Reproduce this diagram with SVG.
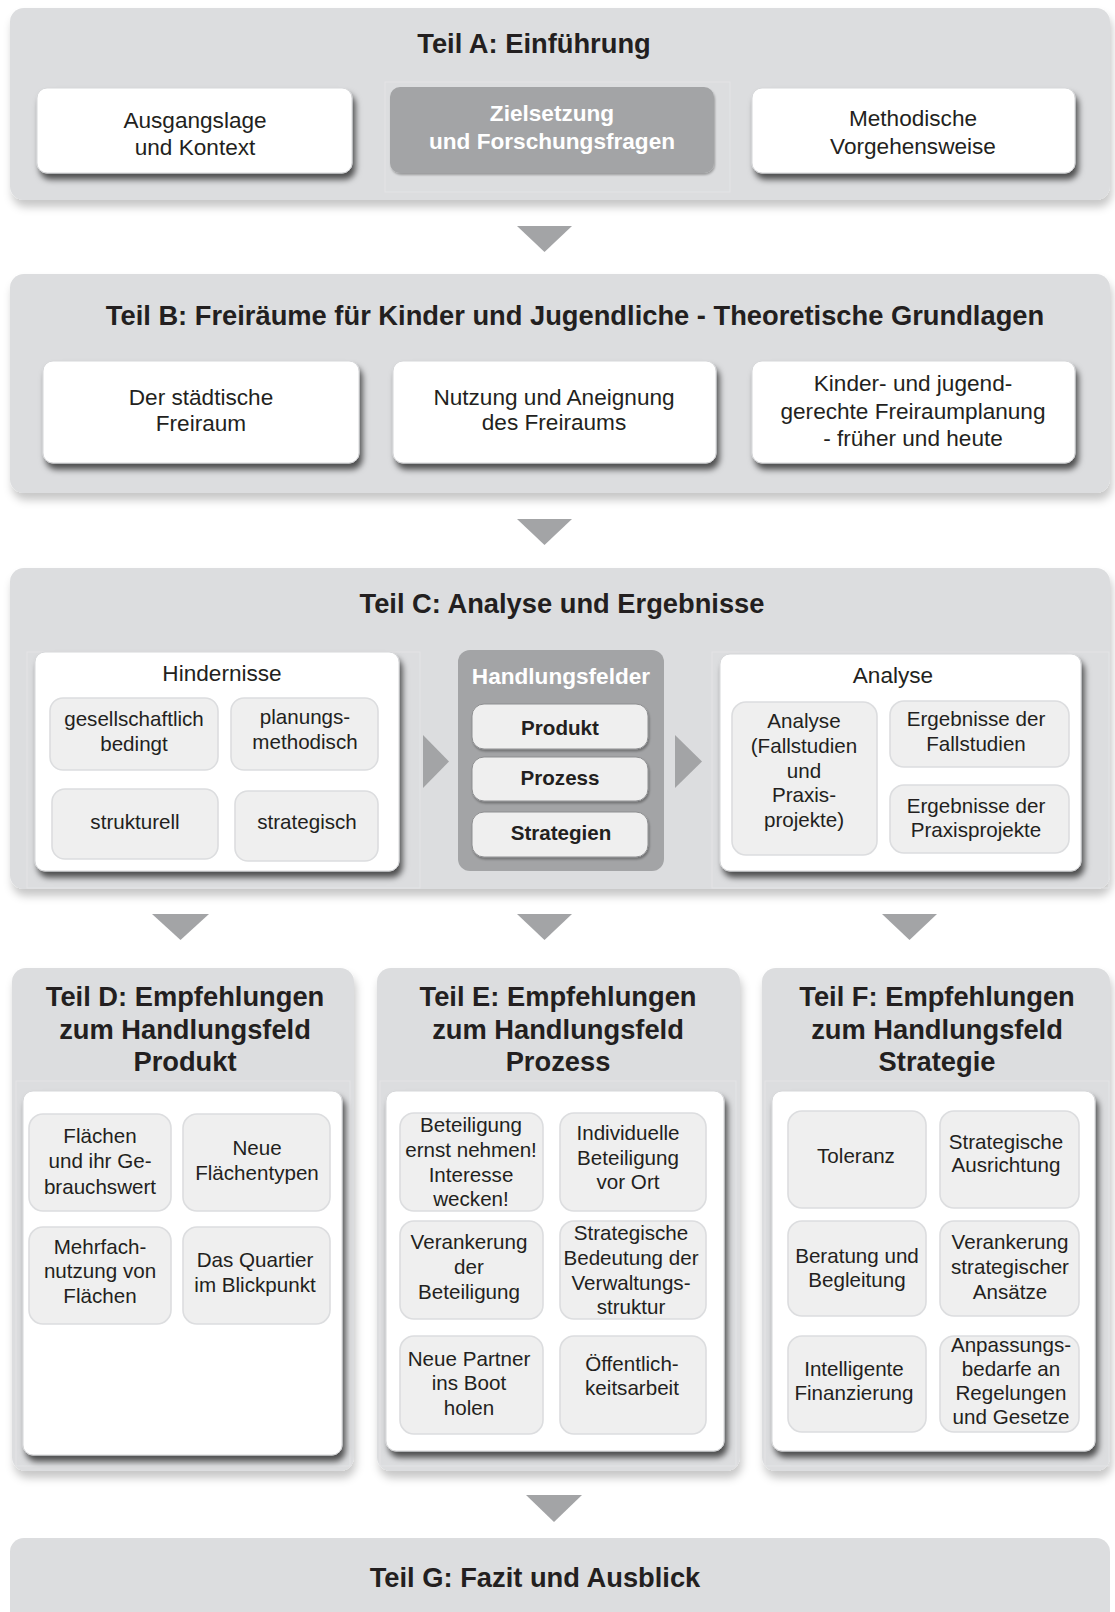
<svg xmlns="http://www.w3.org/2000/svg" width="1115" height="1612" viewBox="0 0 1115 1612">
  <defs>
    <filter id="panelShadow" x="-5%" y="-10%" width="115%" height="130%">
      <feDropShadow dx="2" dy="7" stdDeviation="4.5" flood-color="#000" flood-opacity="0.22"/>
    </filter>
    <filter id="cardShadow" x="-5%" y="-10%" width="115%" height="130%">
      <feDropShadow dx="3" dy="6" stdDeviation="3" flood-color="#000" flood-opacity="0.65"/>
    </filter>
    <filter id="pillShadow" x="-5%" y="-10%" width="115%" height="140%">
      <feDropShadow dx="1" dy="2" stdDeviation="1.2" flood-color="#000" flood-opacity="0.3"/>
    </filter>
  </defs>
  <style>
    .panel { fill: #dcdddf; }
    .frame { fill: none; stroke: #e3e4e6; stroke-width: 1; }
    .card { fill: #ffffff; stroke: #d6d7d9; stroke-width: 1; }
    .dark { fill: #a3a4a6; }
    .sub { fill: #efefef; stroke: #dcdddf; stroke-width: 1.6; }
    .pill { fill: #efefef; stroke: #8e8f91; stroke-width: 1; }
    .arrow { fill: #a3a4a6; }
    text { font-family: "Liberation Sans", Arial, Helvetica, sans-serif; fill: #231f20; text-anchor: middle; }
    .h { font-size: 27.3px; font-weight: bold; }
    .t { font-size: 22.6px; }
    .tw { font-size: 22.6px; font-weight: bold; fill: #ffffff; }
    .s { font-size: 20.6px; }
    .sb { font-size: 20.6px; font-weight: bold; }
  </style>

  <rect width="1115" height="1612" fill="#ffffff"/>

  <!-- Part A -->
  <g id="teil-a">
    <rect class="panel" x="10" y="8" width="1100" height="192" rx="14" filter="url(#panelShadow)"/>
    <rect class="frame" x="385" y="82" width="345" height="110"/>
    <text class="h" x="534" y="53">Teil A: Einführung</text>
  </g>
  <g id="a-ausgangslage">
    <rect class="card" x="37" y="88" width="315" height="85" rx="10" filter="url(#cardShadow)"/>
    <text class="t" x="195" y="128">Ausgangslage</text>
    <text class="t" x="195" y="155">und Kontext</text>
  </g>
  <g id="a-zielsetzung">
    <rect class="dark" x="390" y="87" width="324" height="86" rx="10" filter="url(#pillShadow)"/>
    <text class="tw" x="552" y="121">Zielsetzung</text>
    <text class="tw" x="552" y="149">und Forschungsfragen</text>
  </g>
  <g id="a-methodik">
    <rect class="card" x="752" y="88" width="323" height="85" rx="10" filter="url(#cardShadow)"/>
    <text class="t" x="913" y="126">Methodische</text>
    <text class="t" x="913" y="154">Vorgehensweise</text>
  </g>

  <!-- Part B -->
  <g id="teil-b">
    <rect class="panel" x="10" y="274" width="1100" height="219" rx="14" filter="url(#panelShadow)"/>
    <text class="h" x="575" y="325">Teil B: Freiräume für Kinder und Jugendliche - Theoretische Grundlagen</text>
  </g>
  <g id="b-freiraum">
    <rect class="card" x="43" y="361" width="316" height="102" rx="10" filter="url(#cardShadow)"/>
    <text class="t" x="201" y="405">Der städtische</text>
    <text class="t" x="201" y="431">Freiraum</text>
  </g>
  <g id="b-nutzung">
    <rect class="card" x="393" y="361" width="323" height="102" rx="10" filter="url(#cardShadow)"/>
    <text class="t" x="554" y="405">Nutzung und Aneignung</text>
    <text class="t" x="554" y="430">des Freiraums</text>
  </g>
  <g id="b-planung">
    <rect class="card" x="752" y="361" width="323" height="102" rx="10" filter="url(#cardShadow)"/>
    <text class="t" x="913" y="391">Kinder- und jugend-</text>
    <text class="t" x="913" y="419">gerechte Freiraumplanung</text>
    <text class="t" x="913" y="446">- früher und heute</text>
  </g>

  <!-- Part C -->
  <g id="teil-c">
    <rect class="panel" x="10" y="568" width="1100" height="321" rx="14" filter="url(#panelShadow)"/>
    <rect class="frame" x="27" y="652" width="393" height="236"/>
    <rect class="frame" x="712" y="652" width="397" height="236"/>
    <text class="h" x="562" y="613">Teil C: Analyse und Ergebnisse</text>
  </g>
  <g id="c-hindernisse">
    <rect class="card" x="35" y="652" width="364" height="219" rx="10" filter="url(#cardShadow)"/>
    <text class="t" x="222" y="681">Hindernisse</text>
    <rect class="sub" x="50" y="698" width="168" height="72" rx="13"/>
    <text class="s" x="134" y="726">gesellschaftlich</text>
    <text class="s" x="134" y="751">bedingt</text>
    <rect class="sub" x="231" y="698" width="147" height="72" rx="13"/>
    <text class="s" x="305" y="724">planungs-</text>
    <text class="s" x="305" y="749">methodisch</text>
    <rect class="sub" x="52" y="789" width="166" height="70" rx="13"/>
    <text class="s" x="135" y="829">strukturell</text>
    <rect class="sub" x="235" y="791" width="143" height="70" rx="13"/>
    <text class="s" x="307" y="829">strategisch</text>
  </g>
  <g id="c-handlungsfelder">
    <rect class="dark" x="458" y="650" width="206" height="221" rx="12"/>
    <text class="tw" x="561" y="684">Handlungsfelder</text>
    <rect class="pill" x="472" y="704" width="176" height="45" rx="12" filter="url(#pillShadow)"/>
    <text class="sb" x="560" y="735">Produkt</text>
    <rect class="pill" x="472" y="757" width="176" height="44" rx="12" filter="url(#pillShadow)"/>
    <text class="sb" x="560" y="785">Prozess</text>
    <rect class="pill" x="472" y="812" width="176" height="45" rx="12" filter="url(#pillShadow)"/>
    <text class="sb" x="561" y="840">Strategien</text>
  </g>
  <g id="c-analyse">
    <rect class="card" x="720" y="654" width="361" height="217" rx="10" filter="url(#cardShadow)"/>
    <text class="t" x="893" y="683">Analyse</text>
    <rect class="sub" x="732" y="702" width="145" height="153" rx="14"/>
    <text class="s" x="804" y="728">Analyse</text>
    <text class="s" x="804" y="753">(Fallstudien</text>
    <text class="s" x="804" y="778">und</text>
    <text class="s" x="804" y="802">Praxis-</text>
    <text class="s" x="804" y="827">projekte)</text>
    <rect class="sub" x="890" y="701" width="179" height="66" rx="14"/>
    <text class="s" x="976" y="726">Ergebnisse der</text>
    <text class="s" x="976" y="751">Fallstudien</text>
    <rect class="sub" x="890" y="785" width="179" height="68" rx="14"/>
    <text class="s" x="976" y="813">Ergebnisse der</text>
    <text class="s" x="976" y="837">Praxisprojekte</text>
  </g>

  <!-- Part D -->
  <g id="teil-d">
    <rect class="panel" x="12" y="968" width="342" height="503" rx="14" filter="url(#panelShadow)"/>
    <rect class="frame" x="16" y="1081" width="334" height="385"/>
    <text class="h" x="185" y="1006">Teil D: Empfehlungen</text>
    <text class="h" x="185" y="1039">zum Handlungsfeld</text>
    <text class="h" x="185" y="1071">Produkt</text>
    <rect class="card" x="23" y="1091" width="319" height="364" rx="10" filter="url(#cardShadow)"/>
    <rect class="sub" x="29" y="1114" width="142" height="97" rx="14"/>
    <text class="s" x="100" y="1143">Flächen</text>
    <text class="s" x="100" y="1168">und ihr Ge-</text>
    <text class="s" x="100" y="1194">brauchswert</text>
    <rect class="sub" x="183" y="1114" width="147" height="97" rx="14"/>
    <text class="s" x="257" y="1155">Neue</text>
    <text class="s" x="257" y="1180">Flächentypen</text>
    <rect class="sub" x="29" y="1227" width="142" height="97" rx="14"/>
    <text class="s" x="100" y="1254">Mehrfach-</text>
    <text class="s" x="100" y="1278">nutzung von</text>
    <text class="s" x="100" y="1303">Flächen</text>
    <rect class="sub" x="183" y="1227" width="147" height="97" rx="14"/>
    <text class="s" x="255" y="1267">Das Quartier</text>
    <text class="s" x="255" y="1292">im Blickpunkt</text>
  </g>

  <!-- Part E -->
  <g id="teil-e">
    <rect class="panel" x="377" y="968" width="363" height="503" rx="14" filter="url(#panelShadow)"/>
    <rect class="frame" x="380" y="1081" width="356" height="385"/>
    <text class="h" x="558" y="1006">Teil E: Empfehlungen</text>
    <text class="h" x="558" y="1039">zum Handlungsfeld</text>
    <text class="h" x="558" y="1071">Prozess</text>
    <rect class="card" x="386" y="1091" width="338" height="360" rx="10" filter="url(#cardShadow)"/>
    <rect class="sub" x="400" y="1113" width="143" height="98" rx="14"/>
    <text class="s" x="471" y="1132">Beteiligung</text>
    <text class="s" x="471" y="1157">ernst nehmen!</text>
    <text class="s" x="471" y="1182">Interesse</text>
    <text class="s" x="471" y="1206">wecken!</text>
    <rect class="sub" x="560" y="1113" width="146" height="98" rx="14"/>
    <text class="s" x="628" y="1140">Individuelle</text>
    <text class="s" x="628" y="1165">Beteiligung</text>
    <text class="s" x="628" y="1189">vor Ort</text>
    <rect class="sub" x="400" y="1221" width="143" height="98" rx="14"/>
    <text class="s" x="469" y="1249">Verankerung</text>
    <text class="s" x="469" y="1274">der</text>
    <text class="s" x="469" y="1299">Beteiligung</text>
    <rect class="sub" x="560" y="1221" width="146" height="98" rx="14"/>
    <text class="s" x="631" y="1240">Strategische</text>
    <text class="s" x="631" y="1265">Bedeutung der</text>
    <text class="s" x="631" y="1290">Verwaltungs-</text>
    <text class="s" x="631" y="1314">struktur</text>
    <rect class="sub" x="400" y="1336" width="143" height="98" rx="14"/>
    <text class="s" x="469" y="1366">Neue Partner</text>
    <text class="s" x="469" y="1390">ins Boot</text>
    <text class="s" x="469" y="1415">holen</text>
    <rect class="sub" x="560" y="1336" width="146" height="98" rx="14"/>
    <text class="s" x="632" y="1371">Öffentlich-</text>
    <text class="s" x="632" y="1395">keitsarbeit</text>
  </g>

  <!-- Part F -->
  <g id="teil-f">
    <rect class="panel" x="762" y="968" width="348" height="503" rx="14" filter="url(#panelShadow)"/>
    <rect class="frame" x="765" y="1081" width="344" height="385"/>
    <text class="h" x="937" y="1006">Teil F: Empfehlungen</text>
    <text class="h" x="937" y="1039">zum Handlungsfeld</text>
    <text class="h" x="937" y="1071">Strategie</text>
    <rect class="card" x="772" y="1091" width="323" height="360" rx="10" filter="url(#cardShadow)"/>
    <rect class="sub" x="788" y="1111" width="138" height="97" rx="14"/>
    <text class="s" x="856" y="1163">Toleranz</text>
    <rect class="sub" x="940" y="1111" width="139" height="97" rx="14"/>
    <text class="s" x="1006" y="1149">Strategische</text>
    <text class="s" x="1006" y="1172">Ausrichtung</text>
    <rect class="sub" x="788" y="1221" width="138" height="95" rx="14"/>
    <text class="s" x="857" y="1263">Beratung und</text>
    <text class="s" x="857" y="1287">Begleitung</text>
    <rect class="sub" x="940" y="1221" width="139" height="95" rx="14"/>
    <text class="s" x="1010" y="1249">Verankerung</text>
    <text class="s" x="1010" y="1274">strategischer</text>
    <text class="s" x="1010" y="1299">Ansätze</text>
    <rect class="sub" x="788" y="1336" width="138" height="96" rx="14"/>
    <text class="s" x="854" y="1376">Intelligente</text>
    <text class="s" x="854" y="1400">Finanzierung</text>
    <rect class="sub" x="940" y="1336" width="139" height="96" rx="14"/>
    <text class="s" x="1011" y="1352">Anpassungs-</text>
    <text class="s" x="1011" y="1376">bedarfe an</text>
    <text class="s" x="1011" y="1400">Regelungen</text>
    <text class="s" x="1011" y="1424">und Gesetze</text>
  </g>

  <!-- Part G -->
  <g id="teil-g">
    <rect class="panel" x="10" y="1538" width="1100" height="100" rx="14"/>
    <text class="h" x="535" y="1587">Teil G: Fazit und Ausblick</text>
  </g>

  <!-- Flow arrows between the parts -->
  <g id="connectors">
    <polygon class="arrow" points="517,226 572,226 544.5,252"/>
    <polygon class="arrow" points="517,519 572,519 544.5,545"/>
    <polygon class="arrow" points="423,735 449,761.5 423,788"/>
    <polygon class="arrow" points="675,735 702,761.5 675,788"/>
    <polygon class="arrow" points="152,914 209,914 180.5,940"/>
    <polygon class="arrow" points="517,914 572,914 544.5,940"/>
    <polygon class="arrow" points="882,914 937,914 909.5,940"/>
    <polygon class="arrow" points="526,1495 582,1495 554,1522"/>
  </g>
</svg>
